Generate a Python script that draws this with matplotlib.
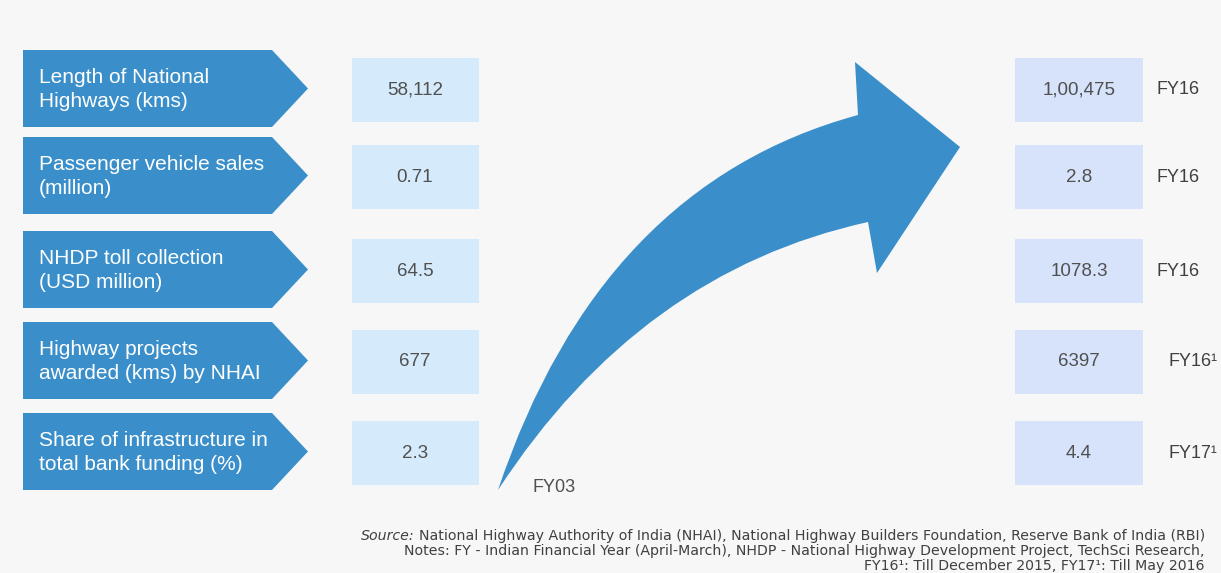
import matplotlib.pyplot as plt
from matplotlib.patches import Polygon, Rectangle, PathPatch
from matplotlib.path import Path

# indicators and values
labels = ['Length of National\nHighways (kms)',
          'Passenger vehicle sales\n(million)',
          'NHDP toll collection\n(USD million)',
          'Highway projects\nawarded (kms) by NHAI',
          'Share of infrastructure in\ntotal bank funding (%)']
start_values = ['58,112', '0.71', '64.5', '677', '2.3']
end_values = ['1,00,475', '2.8', '1078.3', '6397', '4.4']
end_years = ['FY16', 'FY16', 'FY16', 'FY16\u00b9', 'FY17\u00b9']
start_year = 'FY03'

source_txt = ('National Highway Authority of India (NHAI), National Highway '
              'Builders Foundation, Reserve Bank of India (RBI)')
notes_txt = ('Notes: FY - Indian Financial Year (April-March), NHDP - '
             'National Highway Development Project, TechSci Research,')
notes2_txt = 'FY16\u00b9: Till December 2015, FY17\u00b9: Till May 2016'

BLUE = '#3a8fca'
BG = '#f7f7f7'

plt.rcParams['font.family'] = ['Liberation Sans', 'DejaVu Sans']

fig = plt.figure(figsize=(12.21, 5.73), dpi=100, facecolor=BG)
ax = fig.add_axes([0, 0, 1, 1])
ax.set_xlim(0, 1221)
ax.set_ylim(573, 0)
ax.axis('off')

row_tops = [50, 137, 231, 322, 413]
row_h = 77

for i, lab in enumerate(labels):
    t = row_tops[i]
    b = t + row_h
    m = (t + b) / 2
    # pentagon label
    ax.add_patch(Polygon([(23, t), (272, t), (308, m), (272, b), (23, b)],
                         closed=True, facecolor=BLUE, edgecolor='none'))
    ax.text(39, m + 1, lab, color='white', fontsize=15, va='center', ha='left',
            linespacing=1.3)
    # start value box
    ax.add_patch(Rectangle((352, t + 8), 127, 64, facecolor='#d5ebfb',
                           edgecolor='none'))
    ax.text(415, t + 40, start_values[i], color='#505050', fontsize=13.5,
            ha='center', va='center')
    # end value box
    ax.add_patch(Rectangle((1015, t + 8), 128, 64, facecolor='#d7e3fa',
                           edgecolor='none'))
    ax.text(1079, t + 40, end_values[i], color='#505050', fontsize=13.5,
            ha='center', va='center')
    fx = 1157 if i < 3 else 1169
    ax.text(fx, t + 40, end_years[i], color='#404040', fontsize=13,
            ha='left', va='center')

# curved arrow
verts = [(498, 490),
         (600, 185), (858, 115),     # upper edge of shaft
         (855, 62), (960, 147), (877, 273),  # head
         (868, 222),
         (640, 272), (498, 490),     # lower edge back to tail
         (498, 490)]
codes = [Path.MOVETO,
         Path.CURVE3, Path.CURVE3,
         Path.LINETO, Path.LINETO, Path.LINETO,
         Path.LINETO,
         Path.CURVE3, Path.CURVE3,
         Path.CLOSEPOLY]
ax.add_patch(PathPatch(Path(verts, codes), facecolor=BLUE, edgecolor='none'))
ax.text(533, 487, start_year, color='#505050', fontsize=13, ha='left',
        va='center')

# footnotes
fn = dict(fontsize=10.2, color='#404040', ha='right', va='center',
          family=['DejaVu Sans'])
src = ax.text(1205, 536, source_txt, **fn)
ax.text(1205, 551, notes_txt, **fn)
ax.text(1205, 566, notes2_txt, **fn)

# italic "Source:" placed left of the source line
fig.canvas.draw()
bb = src.get_window_extent(fig.canvas.get_renderer())
x0 = ax.transData.inverted().transform((bb.x0, bb.y0))[0]
ax.text(x0 - 4, 536, 'Source:', style='italic', **fn)

fig.savefig('out.png', dpi=100, facecolor=BG)
